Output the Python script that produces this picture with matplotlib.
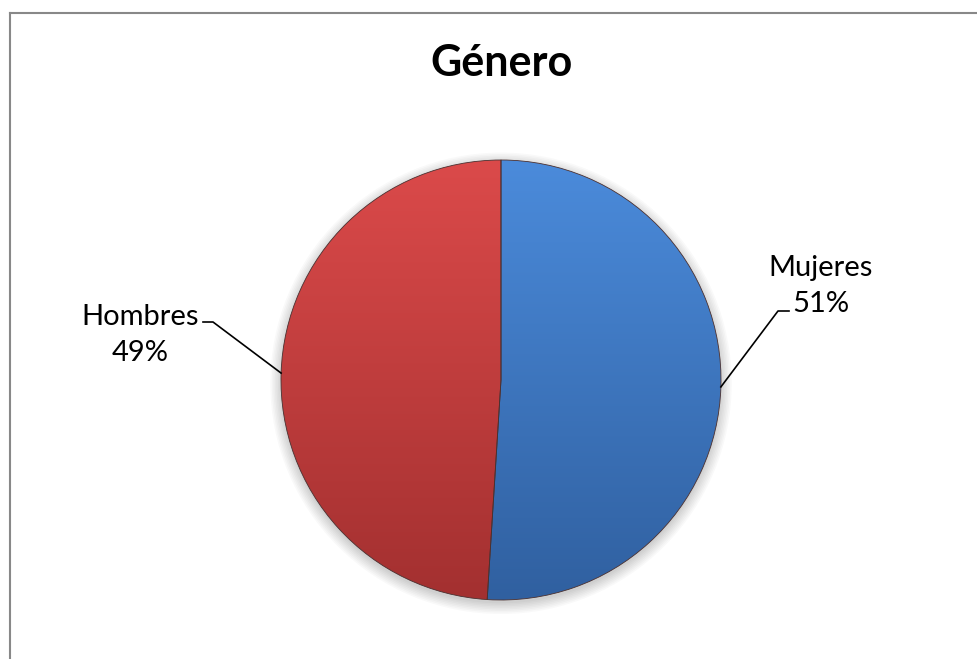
import numpy as np
import matplotlib.pyplot as plt
from matplotlib.colors import LinearSegmentedColormap
from matplotlib.lines import Line2D

plt.rcParams['font.family'] = ['Lato', 'DejaVu Sans']

# data
title = 'Género'
labels = ['Mujeres', 'Hombres']
shares = [51, 49]
top_colors = ['#4b8bdb', '#db4a4a']
bottom_colors = ['#3060a0', '#a33030']

W, H = 977, 659
fig = plt.figure(figsize=(W / 100, H / 100), dpi=100)

# chart border (left and top only are visible)
fig.add_artist(Line2D([9.5 / W, 9.5 / W], [0, 1 - 12.5 / H], color='#888888', lw=1.5))
fig.add_artist(Line2D([9.5 / W, 1], [1 - 12.5 / H, 1 - 12.5 / H], color='#888888', lw=1.5))

fig.text(501 / W, 1 - 63 / H, title, ha='center', va='center',
         fontsize=31, fontweight='bold')

cx, cy, r = 501, 380, 220
ax = fig.add_axes([(cx - r) / W, (H - cy - r) / H, 2 * r / W, 2 * r / H])

# soft shadow under the pie
for k in range(8):
    sh = plt.Circle((0, -0.015), 1.0 + 0.007 * k, color='black', alpha=0.025, lw=0,
                    clip_on=False)
    ax.add_patch(sh)

wedges, _ = ax.pie(shares, startangle=90, counterclock=False,
                   colors=top_colors)

grad = np.linspace(0, 1, 256).reshape(-1, 1)
for w, c1, c2 in zip(wedges, top_colors, bottom_colors):
    cmap = LinearSegmentedColormap.from_list('g', [c2, c1])
    im = ax.imshow(grad, extent=(-1, 1, -1, 1), origin='lower', cmap=cmap,
                   aspect='auto', zorder=w.get_zorder() + 0.1)
    im.set_clip_path(w)

for w in wedges:
    w.set_zorder(6)
    w.set_facecolor('none')
    w.set_edgecolor('#4a3030')
    w.set_linewidth(0.6)

ax.set_xlim(-1, 1)
ax.set_ylim(-1, 1)
ax.set_aspect('auto')
ax.axis('off')

# labels with leader lines
px = lambda x, y: ((x - cx) / r, (cy - y) / r)
label_pos = [px(821, 286), px(140, 335)]
elbows = [(px(778, 311), px(789, 311)), (px(213, 322), px(203, 322))]
for w, lab, s, tp, (e1, e2) in zip(wedges, labels, shares, label_pos, elbows):
    ang = np.deg2rad((w.theta1 + w.theta2) / 2)
    x0, y0 = np.cos(ang), np.sin(ang)
    ax.plot([x0, e1[0], e2[0]], [y0, e1[1], e2[1]], color='black', lw=1.2,
            clip_on=False, zorder=7)
    ax.text(tp[0], tp[1], f'{lab}\n{s}%', ha='center', va='center',
            fontsize=21, linespacing=1.5, clip_on=False)

fig.savefig('out.png', dpi=100, facecolor='white')
